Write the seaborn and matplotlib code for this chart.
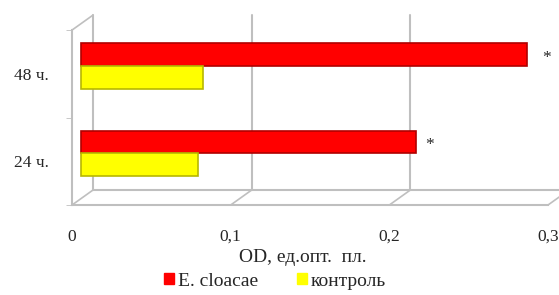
import pandas as pd
import matplotlib
matplotlib.use('Agg')
import matplotlib.pyplot as plt
import matplotlib.transforms as mtransforms
from matplotlib.patches import Patch
import seaborn as sns

# data
times = ['48 ч.', '24 ч.']
groups = ['E. cloacae', 'контроль']
cloacae = [0.281, 0.211]
control = [0.077, 0.074]
xticks = [0, 0.1, 0.2, 0.3]
xticklabels = ['0', '0,1', '0,2', '0,3']

df = pd.DataFrame({
    'time': times + times,
    'group': [groups[0]] * 2 + [groups[1]] * 2,
    'od': cloacae + control,
})

sns.set_style('white')
plt.rcParams['font.family'] = ['Liberation Serif', 'DejaVu Serif']
plt.rcParams['font.size'] = 12.5

fig = plt.figure(figsize=(5.59, 2.95), dpi=100)
ax = fig.add_axes([0.1288, 0.305, 0.8515, 0.593])

sns.barplot(data=df, y='time', x='od', hue='group', order=times, hue_order=groups,
            palette=['#FF0000', '#FFFF00'], width=0.52, orient='h', legend=False,
            saturation=1, ax=ax)

# bars sit in the middle depth of the 3D box
shift = mtransforms.ScaledTranslation(0.09, 0.08, fig.dpi_scale_trans)
for p in ax.patches:
    fc = matplotlib.colors.to_hex(p.get_facecolor())
    p.set_edgecolor('#B00000' if fc == '#ff0000' else '#B8B800')
    p.set_linewidth(1.2)
    p.set_transform(ax.transData + shift)
    p.set_clip_on(False)
    p.set_zorder(3)

ax.set_xlim(0, 0.3)
ax.set_ylim(1.5, -0.5)

# 3D-like frame: back wall shifted up/right
gray = '#BFBFBF'
back = mtransforms.ScaledTranslation(0.21, 0.15, fig.dpi_scale_trans)
tx = ax.get_xaxis_transform()
dxd = 0.21 / 4.76 * 0.3
dya = 0.15 / 1.75
for t in xticks:
    ax.plot([t, t], [0, 1], color=gray, lw=1.5, transform=tx + back, clip_on=False, zorder=1)
    ax.plot([t, t + dxd], [0, dya], color=gray, lw=1.2, transform=tx, clip_on=False, zorder=1)
ax.plot([0, 0.3], [0, 0], color=gray, lw=1.5, transform=tx + back, clip_on=False, zorder=1)
ax.plot([0, dxd], [1, 1 + dya], color=gray, lw=1.2, transform=tx, clip_on=False, zorder=1)

for s in ['top', 'right']:
    ax.spines[s].set_visible(False)
for s in ['left', 'bottom']:
    ax.spines[s].set_color(gray)
    ax.spines[s].set_linewidth(1.5)
    ax.spines[s].set_zorder(1)

ax.set_xticks(xticks)
ax.set_xticklabels(xticklabels)
ax.tick_params(axis='x', length=4, color=gray, pad=13, labelsize=12.5)
ax.tick_params(axis='y', length=0, pad=17, labelsize=12.5)
ax.set_yticks([-0.5, 0.5, 1.5], minor=True)
ax.tick_params(axis='y', which='minor', length=4, color=gray, left=True)
ax.set_ylabel('')
ax.set_xlabel('OD, ед.опт.  пл.', fontsize=14)
ax.xaxis.set_label_coords(0.485, -0.25)

# significance marks
ax.annotate('*', (cloacae[0], -0.13), xytext=(29, 4), textcoords='offset pixels',
            ha='center', va='center', fontsize=12.5)
ax.annotate('*', (cloacae[1], 0.87), xytext=(23, 5), textcoords='offset pixels',
            ha='center', va='center', fontsize=12.5)

handles = [Patch(color='#FF0000'), Patch(color='#FFFF00')]
fig.legend(handles, groups, loc='center', bbox_to_anchor=(0.492, 0.047), ncol=2,
           frameon=False, handlelength=0.5, handleheight=0.5, handletextpad=0.2,
           columnspacing=2.0, fontsize=14)

fig.savefig('out.png', dpi=100)
